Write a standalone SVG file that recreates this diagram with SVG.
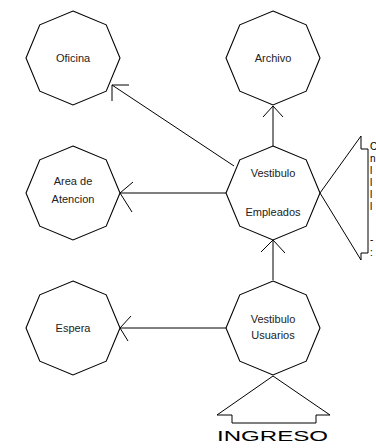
<svg xmlns="http://www.w3.org/2000/svg" width="376" height="448" viewBox="0 0 376 448">
<style>
.oct{fill:#fff;stroke:#000;stroke-width:1.1}
.lbl{font-family:"Liberation Sans",Arial,sans-serif;font-size:11px;fill:#222;text-anchor:middle}
.ln{fill:none;stroke:#000;stroke-width:1}
.side{font-family:"Liberation Sans",Arial,sans-serif;font-size:10px;fill:#000}
</style>
<defs>
<polygon id="octa" points="0,-47 33.2,-33.2 47,0 33.2,33.2 0,47 -33.2,33.2 -47,0 -33.2,-33.2"/>
</defs>
<rect width="376" height="448" fill="#fff"/>
<g id="connectors">
<path class="ln" d="M273,146 L273,106 M263,117 L273,106 L283,117"/>
<path class="ln" d="M234,166 L112,85 M129,85 L112,85 L112,101"/>
<path class="ln" d="M226,193 L120,193 M133,182 L120,193 L132,212"/>
<path class="ln" d="M273,280 L273,240 M261,252 L273,240 L285,253"/>
<path class="ln" d="M226,328 L120,328 M131,316 L120,328 L128,341"/>
</g>
<g id="oficina"><use href="#octa" class="oct" x="73" y="58"/><text class="lbl" x="73" y="62">Oficina</text></g>
<g id="archivo"><use href="#octa" class="oct" x="273" y="58"/><text class="lbl" x="273" y="62">Archivo</text></g>
<g id="area-atencion"><use href="#octa" class="oct" x="73" y="193"/><text class="lbl" x="73" y="185">Area de</text><text class="lbl" x="73" y="203">Atencion</text></g>
<g id="vestibulo-empleados"><use href="#octa" class="oct" x="273" y="193"/><text class="lbl" x="273" y="177">Vestibulo</text><text class="lbl" x="273" y="216">Empleados</text></g>
<g id="espera"><use href="#octa" class="oct" x="73" y="328"/><text class="lbl" x="73" y="332">Espera</text></g>
<g id="vestibulo-usuarios"><use href="#octa" class="oct" x="273" y="328"/><text class="lbl" x="273" y="323">Vestibulo</text><text class="lbl" x="273" y="339">Usuarios</text></g>
<g id="lateral">
<path class="ln" d="M320,193 L361,136 L361,149 L368,149 L368,253 L361,253 L361,260 Z"/>
<text class="side" x="370" y="150">C</text>
<text class="side" x="370" y="162">n</text>
<text class="side" x="370" y="174">l</text>
<text class="side" x="370" y="186">l</text>
<text class="side" x="370" y="198">l</text>
<text class="side" x="370" y="210">l</text>
<text class="side" x="370" y="243">-</text>
<text class="side" x="370" y="256">:</text>
</g>
<g id="ingreso">
<path class="ln" d="M273,376 L217,415 L232,415 L232,423 L316,423 L316,415 L330,415 Z"/>
<text x="217" y="441" font-family="'Liberation Sans',Arial,sans-serif" font-size="15" fill="#000" textLength="111" lengthAdjust="spacingAndGlyphs">INGRESO</text>
</g>
</svg>
